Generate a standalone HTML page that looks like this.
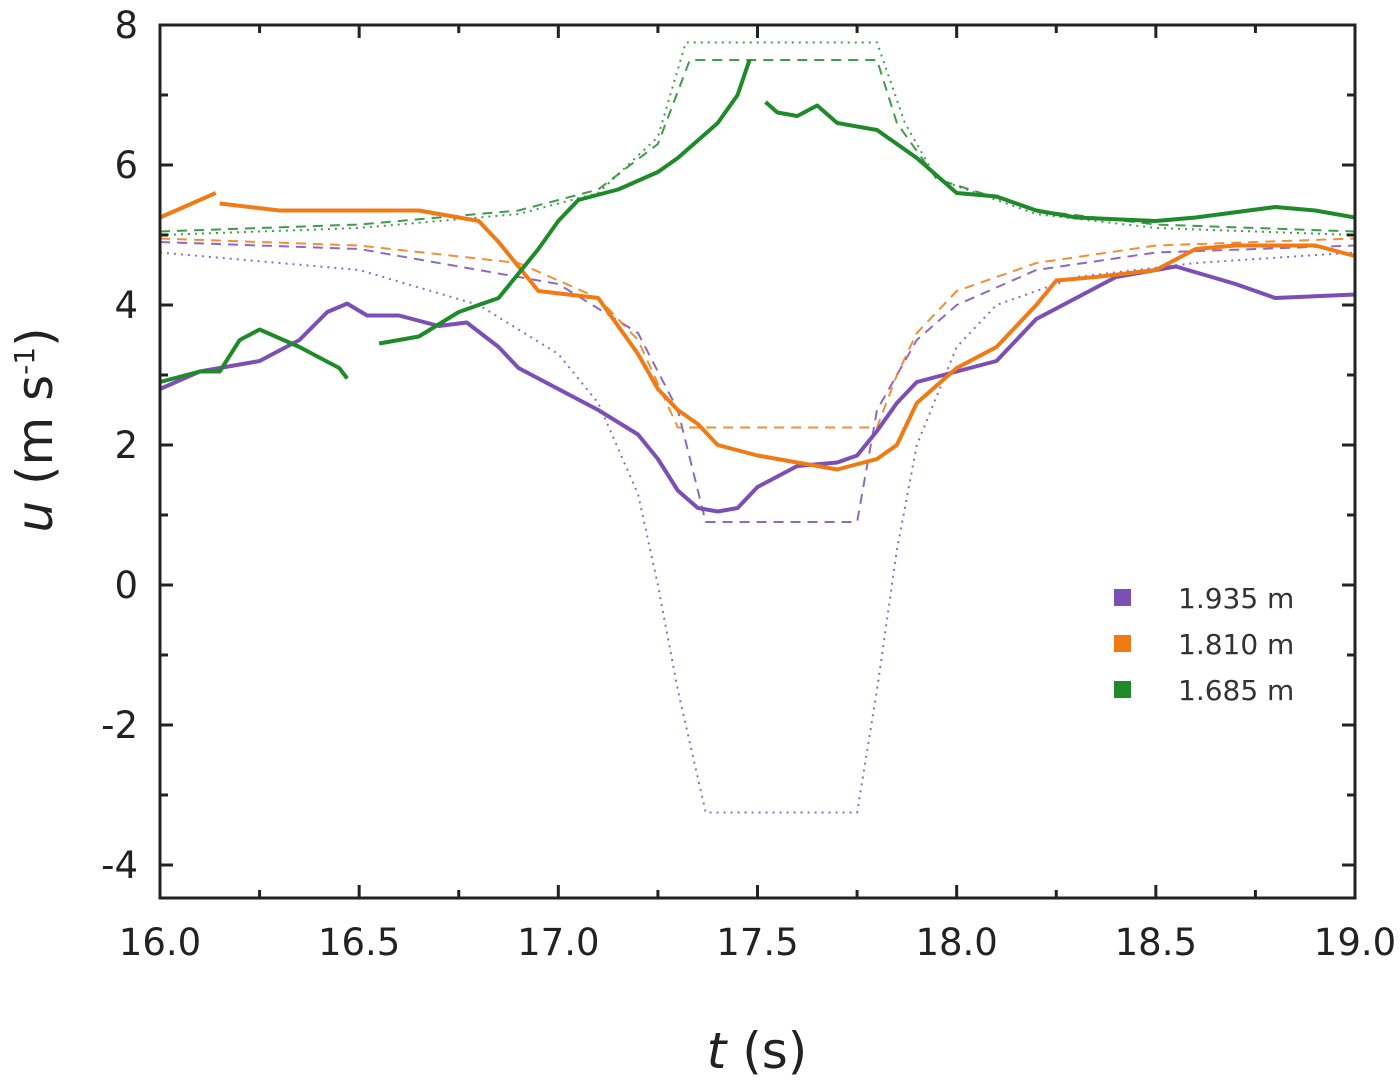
<!DOCTYPE html>
<html><head><meta charset="utf-8"><style>body{margin:0;background:#fff}svg{display:block}</style></head>
<body>
<svg id="chart" width="1400" height="1083" xmlns="http://www.w3.org/2000/svg" font-family="'DejaVu Sans','Liberation Sans',sans-serif"></svg>
<script>
const xTicks=[16.0,16.5,17.0,17.5,18.0,18.5,19.0];
const xTickLabels=["16.0","16.5","17.0","17.5","18.0","18.5","19.0"];
const yTicks=[-4,-2,0,2,4,6,8];
const yTickLabels=["-4","-2","0","2","4","6","8"];
const seriesNames=["1.935 m","1.810 m","1.685 m"];
const purpleT=[16.0,16.1,16.25,16.35,16.42,16.47,16.52,16.6,16.7,16.77,16.85,16.9,17.0,17.1,17.2,17.25,17.3,17.35,17.4,17.45,17.5,17.6,17.7,17.75,17.8,17.85,17.9,18.0,18.1,18.2,18.3,18.4,18.5,18.55,18.7,18.8,19.0];
const purpleU=[2.8,3.05,3.2,3.5,3.9,4.02,3.85,3.85,3.7,3.75,3.4,3.1,2.8,2.5,2.15,1.8,1.35,1.1,1.05,1.1,1.4,1.7,1.75,1.85,2.2,2.6,2.9,3.05,3.2,3.8,4.1,4.4,4.5,4.55,4.3,4.1,4.15];
const orangeT=[16.0,16.1,16.14,null,16.15,16.3,16.5,16.65,16.75,16.8,16.85,16.95,17.1,17.2,17.25,17.3,17.35,17.4,17.5,17.6,17.7,17.8,17.85,17.9,18.0,18.1,18.2,18.25,18.35,18.5,18.6,18.7,18.9,19.0];
const orangeU=[5.25,5.5,5.6,null,5.45,5.35,5.35,5.35,5.25,5.2,4.9,4.2,4.1,3.3,2.8,2.5,2.3,2.0,1.85,1.75,1.65,1.8,2.0,2.6,3.1,3.4,4.0,4.35,4.4,4.5,4.8,4.85,4.85,4.7];
const greenT=[16.0,16.1,16.15,16.2,16.25,16.35,16.45,16.47,null,16.55,16.65,16.75,16.85,16.95,17.0,17.05,17.15,17.25,17.3,17.4,17.45,17.48,null,17.52,17.55,17.6,17.65,17.7,17.8,17.9,18.0,18.1,18.2,18.3,18.5,18.6,18.8,18.9,19.0];
const greenU=[2.9,3.05,3.05,3.5,3.65,3.4,3.1,2.95,null,3.45,3.55,3.9,4.1,4.8,5.2,5.5,5.65,5.9,6.1,6.6,7.0,7.5,null,6.9,6.75,6.7,6.85,6.6,6.5,6.1,5.6,5.55,5.35,5.25,5.2,5.25,5.4,5.35,5.25];
const purpleDashT=[16.0,16.5,17.0,17.2,17.3,17.37,17.75,17.8,17.9,18.0,18.2,18.5,19.0];
const purpleDashU=[4.9,4.8,4.3,3.6,2.5,0.9,0.9,2.5,3.5,4.0,4.5,4.75,4.85];
const orangeDashT=[16.0,16.5,16.9,17.1,17.2,17.3,17.8,17.85,17.9,18.0,18.2,18.5,19.0];
const orangeDashU=[4.95,4.85,4.6,4.1,3.5,2.25,2.25,3.0,3.6,4.2,4.6,4.85,4.95];
const purpleDotT=[16.0,16.5,16.8,17.0,17.1,17.2,17.25,17.3,17.37,17.75,17.8,17.85,17.9,18.0,18.1,18.3,18.6,19.0];
const purpleDotU=[4.75,4.5,4.0,3.3,2.6,1.3,0.0,-1.5,-3.25,-3.25,-1.5,0.5,2.0,3.4,4.0,4.4,4.6,4.75];
const greenDashT=[16.0,16.5,16.9,17.1,17.25,17.33,17.8,17.85,17.95,18.2,18.5,19.0];
const greenDashU=[5.05,5.15,5.35,5.65,6.3,7.5,7.5,6.6,5.8,5.35,5.15,5.05];
const greenDotT=[16.0,16.5,16.9,17.1,17.25,17.32,17.8,17.87,17.95,18.2,18.5,19.0];
const greenDotU=[5.0,5.1,5.3,5.6,6.4,7.75,7.75,6.6,5.8,5.3,5.1,5.0];

const NS="http://www.w3.org/2000/svg";
const svg=document.getElementById('chart');
const L=160,R=1355,T=25,B=898;
const xS=t=>L+(t-16)*(R-L)/3;
const yS=u=>T+(8-u)*70;
function mk(tag,attrs,parent){const e=document.createElementNS(NS,tag);for(const k in attrs)e.setAttribute(k,attrs[k]);(parent||svg).appendChild(e);return e;}
function pathD(ts,us){let d="",pen=false;for(let i=0;i<ts.length;i++){if(ts[i]===null){pen=false;continue;}d+=(pen?"L":"M")+xS(ts[i]).toFixed(1)+","+yS(us[i]).toFixed(1);pen=true;}return d;}
const P="#7b4fb5",O="#f07a14",G="#1f8a2a";
const models=[[purpleDotT,purpleDotU,P,"2,5","purple-dotted-model"],[greenDotT,greenDotU,G,"2,5","green-dotted-model"],[purpleDashT,purpleDashU,P,"10,7","purple-dashed-model"],[orangeDashT,orangeDashU,O,"10,7","orange-dashed-model"],[greenDashT,greenDashU,G,"10,7","green-dashed-model"]];
for(const m of models){const e=mk('path',{d:pathD(m[0],m[1]),fill:'none',stroke:m[2],'stroke-width':2,'stroke-dasharray':m[3],opacity:0.85});

}
const meas=[[purpleT,purpleU,P,"purple-measured-line"],[orangeT,orangeU,O,"orange-measured-line"],[greenT,greenU,G,"green-measured-line"]];
for(const m of meas){const e=mk('path',{d:pathD(m[0],m[1]),fill:'none',stroke:m[2],'stroke-width':4,'stroke-linejoin':'round'});

}
const fr=mk('rect',{x:L,y:T,width:R-L,height:B-T,fill:'none',stroke:'#222','stroke-width':3});


for(let t=16;t<=19.001;t+=0.25){const x=xS(t),maj=Math.abs(t*2-Math.round(t*2))<1e-6,len=maj?13:8;
mk('line',{x1:x,x2:x,y1:B,y2:B-len,stroke:'#222','stroke-width':3});mk('line',{x1:x,x2:x,y1:T,y2:T+len,stroke:'#222','stroke-width':3});}
for(let u=-4;u<=8;u+=1){const y=yS(u),maj=u%2===0,len=maj?13:8;
mk('line',{x1:L,x2:L+len,y1:y,y2:y,stroke:'#222','stroke-width':3});mk('line',{x1:R,x2:R-len,y1:y,y2:y,stroke:'#222','stroke-width':3});}
xTicks.forEach((t,i)=>{const e=mk('text',{x:xS(t),y:B+57,'text-anchor':'middle','font-size':37,fill:'#222'});e.textContent=xTickLabels[i];

});
yTicks.forEach((u,i)=>{const e=mk('text',{x:L-22,y:yS(u)+13,'text-anchor':'end','font-size':37,fill:'#222'});e.textContent=yTickLabels[i];

});
const xt=mk('text',{x:757,y:1068,'text-anchor':'middle','font-size':50,fill:'#222'});
xt.innerHTML='<tspan font-style="italic">t</tspan> (s)';


const yt=mk('text',{transform:'translate(52,430) rotate(-90)','text-anchor':'middle','font-size':50,fill:'#222'});
yt.innerHTML='<tspan font-style="italic">u</tspan> (m s<tspan font-size="28" dy="-18">-1</tspan><tspan dy="18">)</tspan>';


const cols=[P,O,G];
seriesNames.forEach((n,i)=>{const y=597+i*46;
const g=mk('g',{});


mk('rect',{x:1114,y:y-8,width:17,height:17,fill:cols[i]},g);
const tx=mk('text',{x:1178,y:y+11,'font-size':28,fill:'#333'},g);tx.textContent=n;});
</script>
</body></html>
